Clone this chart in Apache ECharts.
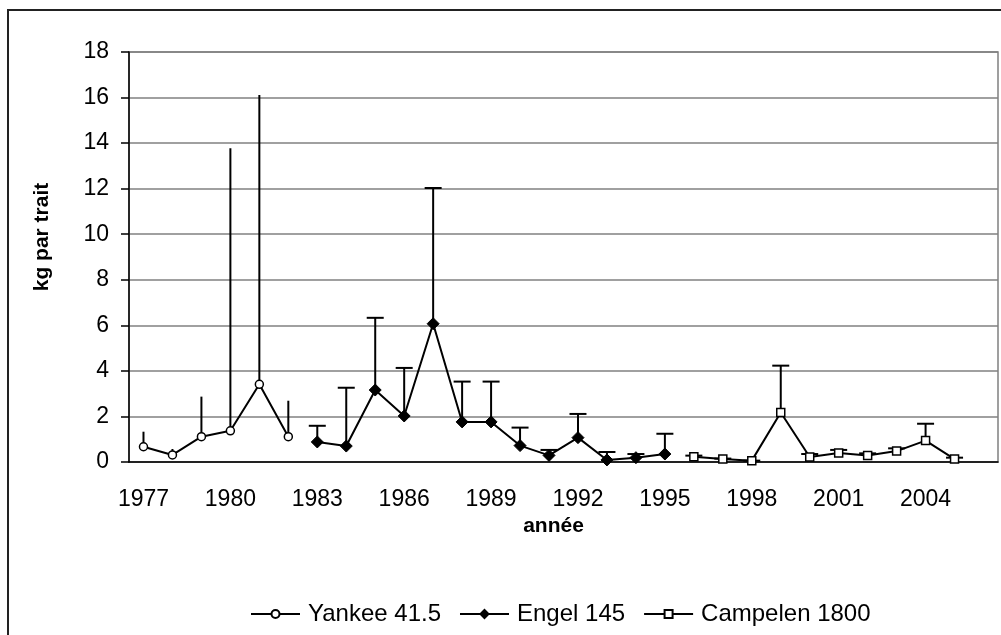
<!DOCTYPE html>
<html lang="fr">
<head>
    <meta charset="UTF-8">
    <title>kg par trait</title>
    <script src="https://cdn.jsdelivr.net/npm/echarts@6/dist/echarts.min.js"></script>
    <style>
        html, body { margin: 0; padding: 0; background: #fff; }
        #main { width: 1001px; height: 635px; }
    </style>
</head>
<body>
<div id="main"></div>
<script>
    // années (la dernière catégorie reste vide)
    var years = ['1977', '1978', '1979', '1980', '1981', '1982', '1983', '1984', '1985', '1986',
        '1987', '1988', '1989', '1990', '1991', '1992', '1993', '1994', '1995', '1996',
        '1997', '1998', '1999', '2000', '2001', '2002', '2003', '2004', '2005', '2006'];

    // Yankee 41.5
    var yankeeYears = ['1977', '1978', '1979', '1980', '1981', '1982'];
    var yankeeMean = [0.67, 0.31, 1.11, 1.37, 3.41, 1.11];
    var yankeeUpper = [1.33, 0.57, 2.87, 13.77, 16.11, 2.69];

    // Engel 145
    var engelYears = ['1983', '1984', '1985', '1986', '1987', '1988', '1989', '1990', '1991',
        '1992', '1993', '1994', '1995'];
    var engelMean = [0.88, 0.70, 3.16, 2.02, 6.07, 1.76, 1.76, 0.72, 0.29, 1.07, 0.09, 0.19, 0.35];
    var engelUpper = [1.59, 3.26, 6.33, 4.13, 12.03, 3.53, 3.53, 1.51, 0.53, 2.11, 0.44, 0.35, 1.24];

    // Campelen 1800
    var campYears = ['1996', '1997', '1998', '1999', '2000', '2001', '2002', '2003', '2004', '2005'];
    var campMean = [0.23, 0.13, 0.06, 2.17, 0.22, 0.40, 0.29, 0.48, 0.94, 0.13];
    var campUpper = [0.28, 0.15, 0.06, 4.23, 0.35, 0.53, 0.38, 0.60, 1.68, 0.19];

    function pairs(xs, ys) {
        return xs.map(function (x, i) { return [x, ys[i]]; });
    }
    function triples(xs, ys, up) {
        return xs.map(function (x, i) { return [x, ys[i], up[i]]; });
    }

    // barre d'erreur (+), avec ou sans chapeau
    function errorBar(cap) {
        return function (params, api) {
            var base = api.coord([api.value(0), api.value(1)]);
            var top = api.coord([api.value(0), api.value(2)]);
            var st = { stroke: '#000', lineWidth: 2 };
            var kids = [{
                type: 'line',
                shape: { x1: base[0], y1: base[1], x2: top[0], y2: top[1] },
                style: st
            }];
            if (cap) {
                kids.push({
                    type: 'line',
                    shape: { x1: top[0] - cap / 2, y1: top[1], x2: top[0] + cap / 2, y2: top[1] },
                    style: st
                });
            }
            return { type: 'group', children: kids };
        };
    }

    var myChart = echarts.init(document.getElementById('main'), null, { renderer: 'canvas' });

    var font = '"Liberation Sans", Arial, sans-serif';

    var option = {
        animation: false,
        backgroundColor: '#fff',
        textStyle: { fontFamily: font },
        graphic: [{
            type: 'rect',
            shape: { x: 8, y: 10, width: 1010, height: 640 },
            style: { fill: 'none', stroke: '#222', lineWidth: 2 },
            silent: true
        }],
        grid: {
            left: 129, right: 3, top: 52, bottom: 173,
            show: true, borderColor: '#808080', borderWidth: 1.5
        },
        legend: {
            data: ['Yankee 41.5', 'Engel 145', 'Campelen 1800'],
            left: 250, top: 602, padding: 0,
            itemWidth: 49, itemHeight: 10, itemGap: 18,
            textStyle: { fontSize: 24, color: '#000', fontFamily: font, padding: [0, 0, 0, 3] }
        },
        xAxis: {
            type: 'category',
            data: years,
            boundaryGap: true,
            name: 'année',
            nameLocation: 'middle',
            nameGap: 48,
            nameTextStyle: { fontSize: 21, fontWeight: 'bold', color: '#000', padding: [0, 20, 0, 0] },
            axisLine: { lineStyle: { color: '#000', width: 1.5 } },
            axisTick: { interval: 0, length: 8, lineStyle: { color: '#000', width: 1.5 } },
            axisLabel: { interval: 2, fontSize: 23, color: '#000', margin: 26 },
            splitLine: { show: false }
        },
        yAxis: {
            type: 'value',
            min: 0, max: 18, interval: 2,
            name: 'kg par trait',
            nameLocation: 'middle',
            nameGap: 76,
            nameTextStyle: { fontSize: 21, fontWeight: 'bold', color: '#000', padding: [0, 0, 0, 40] },
            axisLine: { show: true, lineStyle: { color: '#000', width: 1.5 } },
            axisTick: { show: true, length: 8, lineStyle: { color: '#000', width: 1.5 } },
            axisLabel: { fontSize: 23, color: '#000', margin: 20 },
            splitLine: { lineStyle: { color: '#808080', width: 1.5 } }
        },
        series: [
            {
                name: 'err-yankee', type: 'custom', z: 1,
                renderItem: errorBar(0),
                data: triples(yankeeYears, yankeeMean, yankeeUpper)
            },
            {
                name: 'err-engel', type: 'custom', z: 1,
                renderItem: errorBar(17),
                data: triples(engelYears, engelMean, engelUpper)
            },
            {
                name: 'err-camp', type: 'custom', z: 1,
                renderItem: errorBar(17),
                data: triples(campYears, campMean, campUpper)
            },
            {
                name: 'Yankee 41.5', type: 'line',
                data: pairs(yankeeYears, yankeeMean),
                symbol: 'circle', symbolSize: 8, showAllSymbol: true,
                lineStyle: { color: '#000', width: 2 },
                itemStyle: { color: '#fff', borderColor: '#000', borderWidth: 1.5 }
            },
            {
                name: 'Engel 145', type: 'line',
                data: pairs(engelYears, engelMean),
                symbol: 'diamond', symbolSize: 12, showAllSymbol: true,
                lineStyle: { color: '#000', width: 2 },
                itemStyle: { color: '#000', borderColor: '#000', borderWidth: 1 }
            },
            {
                name: 'Campelen 1800', type: 'line',
                data: pairs(campYears, campMean),
                symbol: 'rect', symbolSize: 8, showAllSymbol: true,
                lineStyle: { color: '#000', width: 2 },
                itemStyle: { color: '#fff', borderColor: '#000', borderWidth: 1.5 }
            }
        ]
    };

    myChart.setOption(option);
</script>
</body>
</html>
